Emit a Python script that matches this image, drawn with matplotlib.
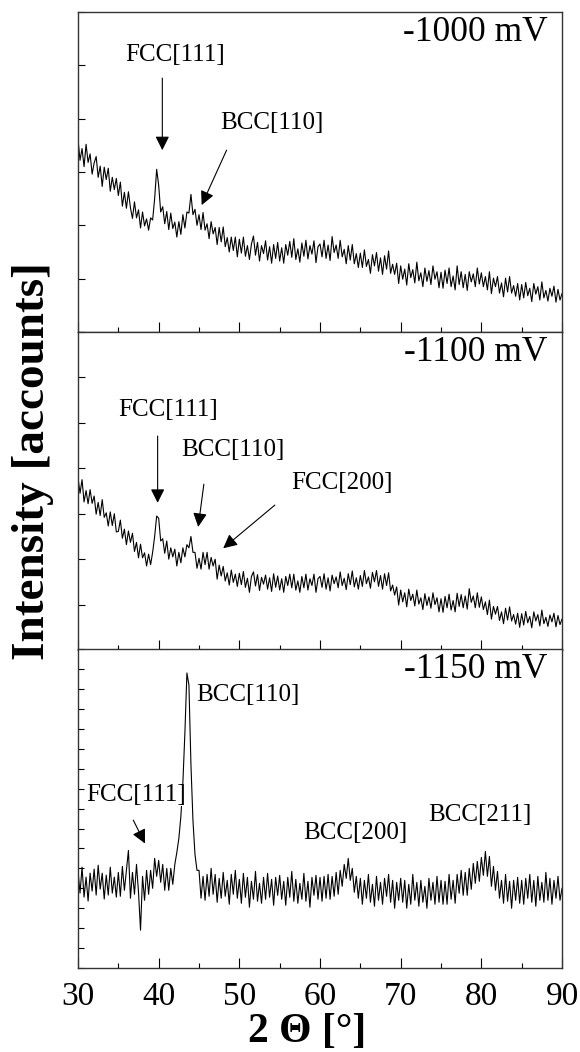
import numpy as np
import matplotlib
matplotlib.use('Agg')
import matplotlib.pyplot as plt

plt.rcParams['font.family'] = ['Liberation Serif', 'DejaVu Serif']

# 2-theta grid, 0.25 deg steps from 30 to 90
two_theta = np.linspace(30, 90, 241)

# -1000 mV trace (arb. units)
i_1000 = [
    3.61, 3.22, 3.44, 3.10, 3.52, 3.18, 3.34, 2.96, 3.17, 3.29, 2.90, 3.11, 2.73, 3.09, 2.86, 3.07, 2.64, 2.90, 2.67, 2.88,
    2.56, 2.81, 2.36, 2.62, 2.32, 2.63, 2.33, 2.13, 2.44, 2.14, 2.29, 1.95, 2.25, 1.99, 2.12, 1.91, 2.14, 2.10, 2.50, 3.05,
    2.75, 2.25, 2.35, 2.03, 2.26, 1.92, 2.23, 1.94, 2.06, 1.78, 2.07, 1.83, 2.20, 1.95, 2.25, 2.23, 2.58, 2.20, 2.30, 2.00,
    2.20, 1.92, 2.24, 1.91, 2.03, 1.75, 2.07, 1.84, 1.96, 1.64, 1.96, 1.69, 1.97, 1.60, 1.77, 1.50, 1.78, 1.53, 1.78, 1.41,
    1.74, 1.48, 1.78, 1.42, 1.62, 1.36, 1.65, 1.80, 1.44, 1.68, 1.33, 1.62, 1.47, 1.71, 1.35, 1.60, 1.29, 1.64, 1.38, 1.68,
    1.33, 1.58, 1.29, 1.64, 1.44, 1.70, 1.40, 1.75, 1.36, 1.56, 1.31, 1.67, 1.42, 1.72, 1.37, 1.62, 1.46, 1.71, 1.30, 1.60,
    1.65, 1.41, 1.72, 1.38, 1.63, 1.34, 1.79, 1.49, 1.63, 1.38, 1.72, 1.41, 1.55, 1.28, 1.62, 1.35, 1.64, 1.28, 1.47, 1.21,
    1.48, 1.21, 1.54, 1.23, 1.36, 1.10, 1.45, 1.24, 1.49, 1.14, 1.39, 1.08, 1.43, 1.18, 1.52, 1.10, 1.27, 1.08, 1.29, 0.91,
    1.24, 0.99, 1.18, 0.88, 1.28, 1.02, 1.17, 0.92, 1.31, 0.96, 1.11, 0.85, 1.20, 0.95, 1.15, 0.89, 1.24, 0.99, 1.13, 0.83,
    1.12, 0.82, 1.16, 0.91, 1.20, 0.85, 1.05, 0.79, 1.24, 0.89, 1.13, 0.83, 1.08, 0.78, 1.13, 0.94, 1.09, 0.85, 1.20, 0.90,
    1.11, 0.85, 1.04, 0.79, 1.13, 0.72, 1.01, 0.85, 1.04, 0.73, 0.92, 0.66, 1.01, 0.75, 1.04, 0.73, 0.87, 0.67, 0.91, 0.60,
    0.89, 0.64, 0.93, 0.68, 0.82, 0.57, 0.91, 0.71, 0.85, 0.60, 0.94, 0.64, 0.78, 0.58, 0.82, 0.67, 0.86, 0.56, 0.80, 0.60,
    0.72,
]

# -1100 mV trace
i_1100 = [
    3.79, 3.45, 3.75, 3.26, 3.51, 3.22, 3.53, 3.23, 3.39, 2.99, 3.25, 2.96, 3.31, 2.92, 3.02, 2.73, 3.04, 2.74, 3.00, 2.60,
    2.61, 2.86, 2.46, 2.66, 2.32, 2.62, 2.37, 2.57, 2.17, 2.37, 2.03, 2.33, 2.03, 2.14, 1.85, 2.11, 1.88, 2.15, 2.50, 2.95,
    2.90, 2.40, 2.45, 2.13, 2.40, 2.00, 2.25, 2.05, 2.22, 1.85, 2.15, 1.92, 2.25, 2.05, 2.32, 2.25, 2.50, 2.15, 2.15, 1.80,
    2.02, 1.78, 2.15, 1.88, 2.15, 1.78, 2.04, 1.85, 2.00, 1.56, 1.87, 1.63, 1.84, 1.52, 1.70, 1.43, 1.76, 1.49, 1.67, 1.40,
    1.69, 1.44, 1.73, 1.38, 1.58, 1.27, 1.62, 1.72, 1.41, 1.66, 1.31, 1.60, 1.45, 1.65, 1.34, 1.59, 1.29, 1.68, 1.38, 1.63,
    1.32, 1.57, 1.27, 1.62, 1.42, 1.67, 1.37, 1.67, 1.32, 1.52, 1.27, 1.62, 1.37, 1.67, 1.32, 1.57, 1.42, 1.67, 1.27, 1.57,
    1.62, 1.38, 1.68, 1.34, 1.59, 1.30, 1.65, 1.46, 1.61, 1.37, 1.72, 1.42, 1.58, 1.33, 1.68, 1.44, 1.74, 1.39, 1.59, 1.34,
    1.64, 1.40, 1.75, 1.46, 1.61, 1.36, 1.71, 1.50, 1.75, 1.40, 1.64, 1.34, 1.68, 1.42, 1.70, 1.30, 1.43, 1.21, 1.39, 0.99,
    1.32, 1.06, 1.26, 0.95, 1.34, 1.09, 1.23, 0.97, 1.32, 1.01, 1.15, 0.89, 1.24, 0.98, 1.17, 0.92, 1.26, 1.00, 1.15, 0.84,
    1.13, 0.83, 1.18, 0.93, 1.23, 0.88, 1.09, 0.84, 1.25, 0.96, 1.22, 0.93, 1.19, 0.90, 1.35, 1.05, 1.19, 0.93, 1.26, 0.94,
    1.17, 0.89, 1.06, 0.78, 1.10, 0.68, 0.96, 0.79, 0.96, 0.65, 0.84, 0.58, 0.92, 0.66, 0.95, 0.64, 0.78, 0.57, 0.81, 0.50,
    0.80, 0.55, 0.85, 0.60, 0.74, 0.49, 0.84, 0.64, 0.78, 0.53, 0.88, 0.58, 0.72, 0.52, 0.77, 0.62, 0.81, 0.51, 0.76, 0.56,
    0.68,
]

# -1150 mV trace
i_1150 = [
    4.86, 3.76, 5.06, 3.56, 4.56, 3.36, 4.76, 3.86, 4.96, 3.66, 5.16, 3.96, 4.76, 3.46, 4.66, 3.66, 5.06, 3.76, 4.56, 3.56,
    4.80, 3.60, 5.10, 3.90, 4.90, 5.90, 3.50, 4.80, 3.70, 5.20, 3.80, 1.90, 4.60, 3.40, 4.90, 3.70, 4.90, 4.00, 5.50, 4.60,
    5.40, 4.30, 5.20, 3.90, 5.00, 3.90, 5.00, 4.20, 5.20, 5.80, 6.50, 7.60, 9.30, 11.80, 14.80, 14.20, 10.20, 7.40, 5.70, 4.90,
    4.90, 3.50, 4.60, 3.40, 4.70, 3.60, 5.00, 3.70, 4.70, 3.30, 4.50, 3.50, 4.80, 3.60, 4.40, 3.20, 4.70, 3.70, 4.90, 3.50,
    4.45, 3.25, 4.75, 3.55, 4.55, 3.05, 4.35, 3.45, 4.85, 3.35, 4.25, 3.25, 4.55, 3.45, 4.75, 3.55, 4.45, 3.15, 4.55, 3.65,
    4.65, 3.45, 4.35, 3.15, 4.55, 3.55, 4.85, 3.35, 4.45, 3.25, 4.25, 3.45, 4.75, 3.35, 4.35, 3.05, 4.55, 3.65, 4.65, 3.45,
    4.55, 3.35, 4.60, 3.50, 4.70, 3.45, 4.60, 3.60, 4.80, 3.70, 4.90, 4.10, 5.20, 4.50, 5.50, 4.40, 5.00, 3.80, 4.60, 3.50,
    4.50, 3.20, 4.40, 3.50, 4.70, 3.30, 4.20, 3.10, 4.60, 3.40, 4.30, 3.20, 4.50, 3.60, 4.70, 3.30, 4.40, 3.00, 4.30, 3.40,
    4.50, 3.30, 4.40, 3.00, 4.20, 3.20, 4.70, 3.40, 4.30, 3.10, 4.40, 3.30, 4.10, 3.00, 4.50, 3.40, 4.30, 3.20, 4.60, 3.30,
    4.40, 3.20, 4.35, 3.20, 4.70, 3.45, 4.40, 3.25, 4.70, 3.75, 4.90, 3.65, 4.80, 3.65, 5.00, 3.95, 5.25, 4.25, 5.35, 4.35,
    5.55, 4.65, 5.85, 4.60, 5.60, 4.10, 5.10, 3.90, 4.85, 3.50, 4.40, 3.25, 4.70, 3.35, 4.35, 3.00, 4.40, 3.40, 4.55, 3.25,
    4.40, 3.20, 4.50, 3.50, 4.70, 3.30, 4.40, 3.10, 4.60, 3.40, 4.30, 3.30, 4.80, 3.40, 4.50, 3.20, 4.40, 3.50, 4.60, 3.40,
    4.00,
]

potentials = ['-1000 mV', '-1100 mV', '-1150 mV']
x_ticks = [30, 40, 50, 60, 70, 80, 90]

fig = plt.figure(figsize=(5.8, 10.52), dpi=100)
left, width = 0.1345, 0.8345
ax1 = fig.add_axes([left, 0.6844, width, 0.3042])
ax2 = fig.add_axes([left, 0.3821, width, 0.3023])
ax3 = fig.add_axes([left, 0.0798, width, 0.3032])

ylims = [6, 7, 16]
for ax, y, lab, top in zip([ax1, ax2, ax3], [i_1000, i_1100, i_1150], potentials, ylims):
    ax.plot(two_theta, y, color='k', lw=0.8)
    ax.set_xlim(30, 90)
    ax.set_ylim(0, top)
    ax.set_xticks(x_ticks)
    ax.set_xticks(np.arange(35, 90, 10), minor=True)
    ax.set_yticks(np.arange(0, top + 1, 1))
    ax.set_yticklabels([])
    ax.tick_params(axis='x', which='major', direction='in', length=7, width=0.8, top=False)
    ax.tick_params(axis='x', which='minor', direction='in', length=3.5, width=0.8, top=False)
    ax.tick_params(axis='y', direction='in', length=5 if top < 10 else 4.5, width=0.8, right=False)
    for s in ax.spines.values():
        s.set_linewidth(1.0)
        s.set_color('#333333')
    ax.text(88.2, top * 0.935, lab, ha='right', va='center', fontsize=25.5)

ax1.set_xticklabels([])
ax2.set_xticklabels([])
ax3.tick_params(axis='x', which='major', labelsize=24, pad=10)

arrow = dict(arrowstyle='-|>,head_length=0.6,head_width=0.3', color='k', lw=0.8,
             mutation_scale=14, shrinkA=0, shrinkB=0)

# -1000 mV labels
ax1.text(42.0, 5.19, 'FCC[111]', ha='center', va='center', fontsize=18)
ax1.annotate('', xy=(40.45, 3.41), xytext=(40.45, 4.76), arrowprops=arrow)
ax1.text(54.0, 3.92, 'BCC[110]', ha='center', va='center', fontsize=18)
ax1.annotate('', xy=(45.33, 2.38), xytext=(48.42, 3.41), arrowprops=arrow)

# -1100 mV labels
ax2.text(41.15, 5.28, 'FCC[111]', ha='center', va='center', fontsize=18)
ax2.annotate('', xy=(39.87, 3.24), xytext=(39.87, 4.71), arrowprops=arrow)
ax2.text(49.2, 4.40, 'BCC[110]', ha='center', va='center', fontsize=18)
ax2.annotate('', xy=(44.9, 2.71), xytext=(45.6, 3.65), arrowprops=arrow)
ax2.text(62.7, 3.67, 'FCC[200]', ha='center', va='center', fontsize=18)
ax2.annotate('', xy=(48.0, 2.24), xytext=(54.4, 3.19), arrowprops=arrow)

# -1150 mV labels
ax3.text(51.1, 13.69, 'BCC[110]', ha='center', va='center', fontsize=18)
ax3.text(37.2, 8.68, 'FCC[111]', ha='center', va='center', fontsize=18,
         bbox=dict(facecolor='white', edgecolor='none', pad=0))
ax3.annotate('', xy=(38.3, 6.25), xytext=(36.85, 7.42), arrowprops=arrow)
ax3.text(64.4, 6.77, 'BCC[200]', ha='center', va='center', fontsize=18)
ax3.text(79.8, 7.67, 'BCC[211]', ha='center', va='center', fontsize=18)

fig.text(0.057, 0.562, 'Intensity [accounts]', rotation=90, ha='center', va='center',
         fontsize=34, fontweight='bold')
fig.text(0.529, 0.0095, '2 Θ [°]', ha='center', va='baseline', fontsize=30, fontweight='bold')

fig.savefig('out.png', dpi=100)
